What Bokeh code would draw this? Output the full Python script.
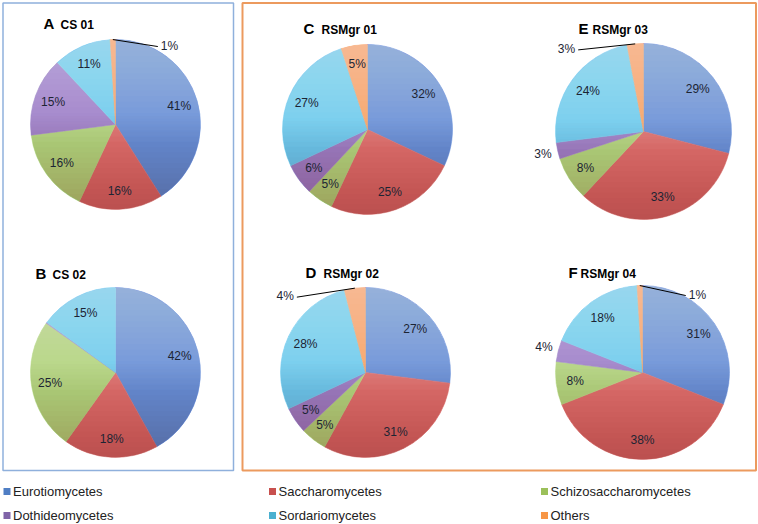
import numpy as np
from bokeh.plotting import figure
from bokeh.models import Range1d
from bokeh.embed import file_html
from bokeh.resources import INLINE
from bokeh.core.properties import value

# ---------------- data ----------------
categories = ["Eurotiomycetes", "Saccharomycetes", "Schizosaccharomycetes",
              "Dothideomycetes", "Sordariomycetes", "Others"]
panel_letters = ["A", "B", "C", "D", "E", "F"]
panel_names = ["CS 01", "CS 02", "RSMgr 01", "RSMgr 02", "RSMgr 03", "RSMgr 04"]
cs01 = [41, 16, 16, 15, 11, 1]
cs02 = [42, 18, 25, 0.2, 15, 0]
rsmgr01 = [32, 25, 5, 6, 27, 5]
rsmgr02 = [27, 31, 5, 5, 28, 4]
rsmgr03 = [29, 33, 8, 3, 24, 3]
rsmgr04 = [31, 38, 8, 4, 18, 1]
panel_values = [cs01, cs02, rsmgr01, rsmgr02, rsmgr03, rsmgr04]

# ---------------- style ----------------
slice_colors = ["#6890DA", "#E07270", "#B5D880", "#9C80C8", "#6CCAEE", "#F7A062"]
legend_colors = ["#4F7EC4", "#C8504E", "#9BC05A", "#8064A8", "#4BB0D0", "#F79646"]
FONT = "Liberation Sans"
W, H = 758, 524
LABEL_COLOR = "#1c2433"

# pie layout in picture pixels: (cx, cy, r)
pie_layout = [(115, 124, 85), (115, 372, 85), (367, 129, 85),
              (365, 372, 85), (643, 131, 88), (642, 372, 87)]
# title layout: (letter x, name x, y)
title_layout = [(43, 60, 23), (35, 52, 273), (303, 321, 28),
                (305, 323, 272), (578, 592, 28), (568, 580, 272)]
# leader-line offsets (dx, dy in pixels) for tiny top slices
leader_offsets = {0: (45, 7), 3: (-58, 9), 4: (-57, 6), 5: (46, 10)}

p = figure(width=W, height=H, output_backend="svg", toolbar_location=None,
           x_range=Range1d(0, W), y_range=Range1d(0, H),
           min_border=0, outline_line_color=None)
p.axis.visible = False
p.grid.visible = False
p.background_fill_color = "white"

def Y(py):
    return H - py

# panel frames
p.quad(left=[2.5], right=[233], top=[Y(2.5)], bottom=[Y(470)], fill_color=None,
       line_color="#8FB0DC", line_width=1.5)
p.quad(left=[242], right=[755.5], top=[Y(2.5)], bottom=[Y(470)], fill_color=None,
       line_color="#EC9A5E", line_width=2)

for k, vals in enumerate(panel_values):
    cx, cy_px, r = pie_layout[k]
    cy = Y(cy_px)
    v = np.array(vals, dtype=float)
    frac = v / v.sum()
    cum = np.concatenate([[0], np.cumsum(frac)])
    keep = v > 0
    starts = np.pi / 2 - 2 * np.pi * cum[1:]
    ends = np.pi / 2 - 2 * np.pi * cum[:-1]
    cols = [c for c, kp in zip(slice_colors, keep) if kp]
    p.wedge(x=[cx] * int(keep.sum()), y=[cy] * int(keep.sum()), radius=r,
            radius_units="screen", start_angle=list(starts[keep]),
            end_angle=list(ends[keep]), fill_color=cols, line_color=cols,
            line_width=0.5)

    # soft lighting: lighter toward the top, darker toward the bottom
    n = 18
    for i in range(1, n + 1):
        t = 0.6 * i / n
        yl = cy + r - 2 * r * t
        th0 = np.arcsin(np.clip((yl - cy) / r, -1, 1))
        th = np.linspace(th0, np.pi - th0, 60)
        p.patch(cx + r * np.cos(th), cy + r * np.sin(th), fill_color="white",
                fill_alpha=0.025, line_color=None)
    for i in range(n):
        t = 0.45 + 0.55 * i / n
        yl = cy + r - 2 * r * t
        th0 = np.arcsin(np.clip((yl - cy) / r, -1, 1))
        th = np.linspace(np.pi - th0, 2 * np.pi + th0, 60)
        p.patch(cx + r * np.cos(th), cy + r * np.sin(th), fill_color="#300000",
                fill_alpha=0.013, line_color=None)

    # labels
    lx, ly, la = [], [], []
    for j in range(len(v)):
        if round(v[j]) < 1:
            continue
        mid = 2 * np.pi * (cum[j] + cum[j + 1]) / 2  # clockwise from top
        txt = f"{int(round(v[j]))}%"
        if v[j] >= 5:
            rr = 0.78 * r
            lx.append(cx + rr * np.sin(mid)); ly.append(cy + rr * np.cos(mid)); la.append(txt)
        else:
            near_top = min(mid, 2 * np.pi - mid) < np.radians(15)
            if near_top and k in leader_offsets:
                ax, ay = cx + r * np.sin(mid), cy + r * np.cos(mid)
                dx, dy = leader_offsets[k]
                ex, ey = ax + dx, ay - dy
                p.line([ax, ex], [ay, ey], line_color="black", line_width=1)
                p.text(x=[ex + (3 if dx > 0 else -3)], y=[ey + 1], text=[txt],
                       text_font=value(FONT), text_font_size="12px",
                       text_color=LABEL_COLOR, text_baseline="middle",
                       text_align="left" if dx > 0 else "right")
            else:
                rr = 1.17 * r
                lx.append(cx + rr * np.sin(mid)); ly.append(cy + rr * np.cos(mid)); la.append(txt)
    p.text(x=lx, y=ly, text=la, text_font=value(FONT), text_font_size="12px",
           text_color=LABEL_COLOR, text_align="center", text_baseline="middle")

    # titles
    tx, nx, ty = title_layout[k]
    p.text(x=[tx], y=[Y(ty)], text=[panel_letters[k]], text_font=value(FONT),
           text_font_size="15px", text_font_style="bold", text_color="black",
           text_align="left", text_baseline="middle")
    p.text(x=[nx], y=[Y(ty) - 1], text=[panel_names[k]], text_font=value(FONT),
           text_font_size="12px", text_font_style="bold", text_color="black",
           text_align="left", text_baseline="middle")

# legend
leg_x = [6.5, 272, 544]
leg_y = [491, 515]
for i, name in enumerate(categories):
    col, row = i % 3, i // 3
    x0, y0 = leg_x[col], Y(leg_y[row])
    p.rect(x=[x0], y=[y0], width=7, height=7, width_units="screen",
           height_units="screen", fill_color=legend_colors[i], line_color=None)
    p.text(x=[x0 + 6], y=[y0], text=[name], text_font=value(FONT),
           text_font_size="13px", text_color="#222222", text_align="left",
           text_baseline="middle")

open("out.html", "w").write(file_html(p, INLINE))
